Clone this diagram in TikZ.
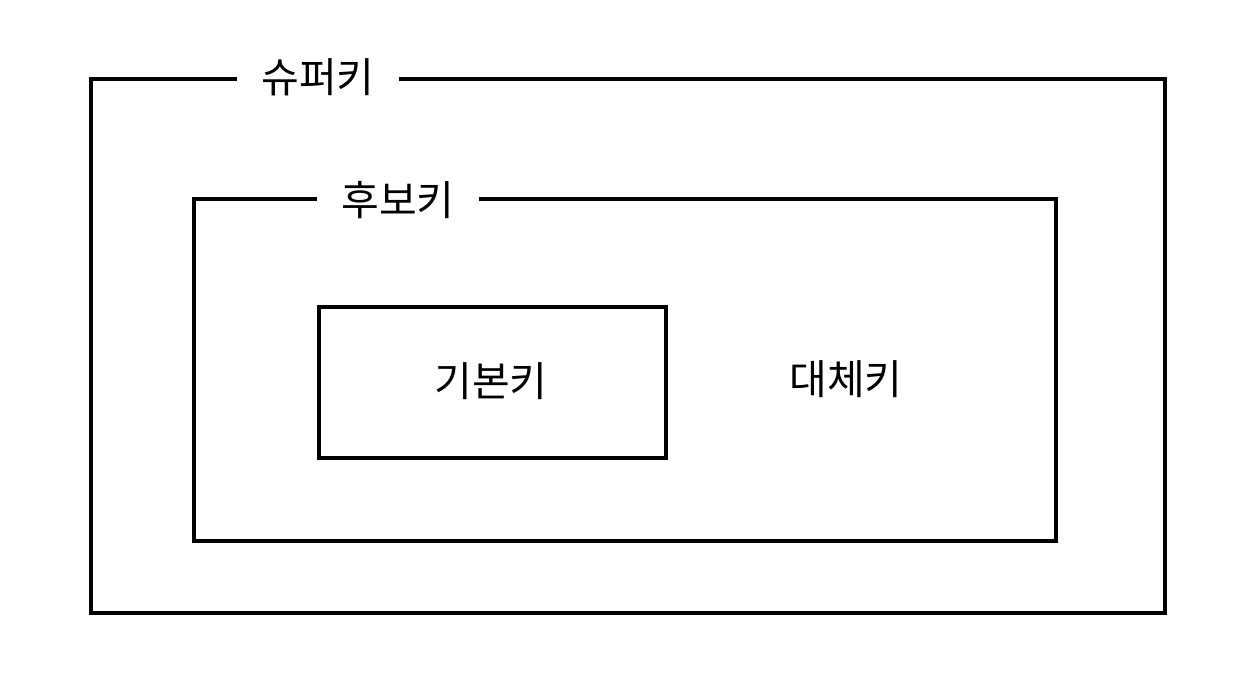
\documentclass[tikz,border=0pt]{standalone}
\usepackage{fontspec}
\setmainfont{Noto Sans CJK KR}
\begin{document}
\begin{tikzpicture}[x=1pt,y=-1pt,
  box/.style={draw=black,line width=4pt},
  lbl/.style={font=\fontsize{41}{48}\selectfont,fill=white,inner xsep=24pt,inner ysep=2pt},
  txt/.style={font=\fontsize{41}{48}\selectfont}]
\useasboundingbox (0,0) rectangle (1238,686);
\draw[box] (91,79) rectangle (1165,613);
\draw[box] (194,199) rectangle (1056,541);
\node[box,minimum width=347pt,minimum height=151pt,inner sep=0pt] (pk) at (492.5,382.5) {};
\node[lbl] (sk) at (318,77) {슈퍼키};
\node[lbl] (ck) at (398,200) {후보키};
\node[txt] (pkl) at (491,381) {기본키};
\node[txt] (ak) at (846,379) {대체키};
\end{tikzpicture}
\end{document}
